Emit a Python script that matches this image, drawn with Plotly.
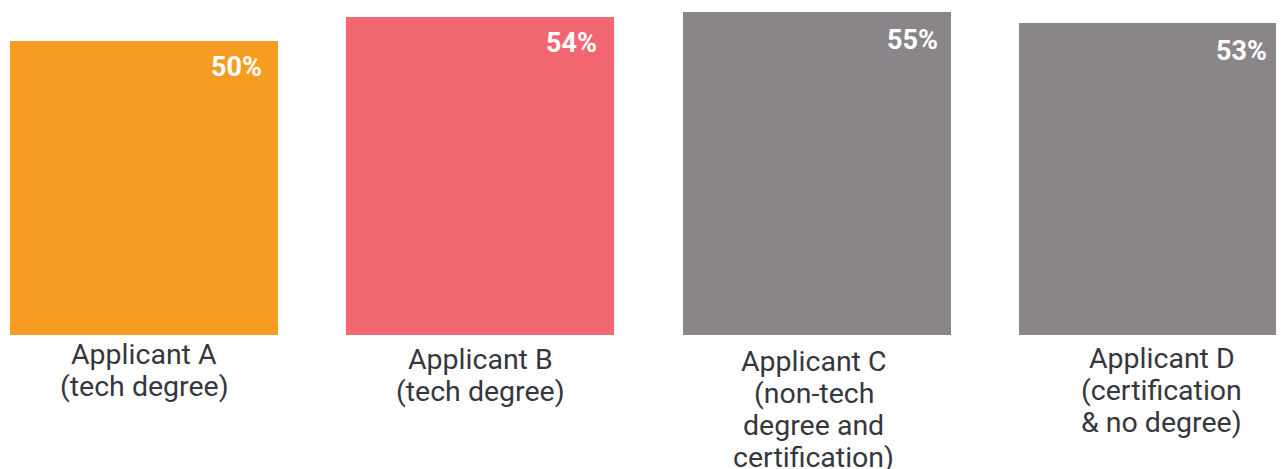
import plotly.graph_objects as go

categories = ["Applicant A", "Applicant B", "Applicant C", "Applicant D"]
label_lines = [
    ["Applicant A", "(tech degree)"],
    ["Applicant B", "(tech degree)"],
    ["Applicant C", "(non-tech", "degree and", "certification)"],
    ["Applicant D", "(certification", "& no degree)"],
]
values = [50, 54, 55, 53]
colors = ["#F79C23", "#F16670", "#8A8589", "#8A8589"]

# layout offsets (pixels) for text placement
label_first_shift = [-19, -24, -26, -23]
label_line_step = 32
label_xshift = [0, 0, -3, 9]
pct_xshift = [120, 119, 123, 116]
pct_yshift = [-26, -26, -28, -28]

fig = go.Figure()
fig.add_trace(go.Bar(x=list(range(len(categories))), y=values, marker_color=colors,
                     marker_line_width=0, width=0.797, hoverinfo="skip"))

ann = []
for i, (v, lines) in enumerate(zip(values, label_lines)):
    ann.append(dict(x=i, y=v, xref="x", yref="y", text=f"<b>{v}%</b>", showarrow=False,
                    xanchor="right", yanchor="middle", xshift=pct_xshift[i], yshift=pct_yshift[i],
                    font=dict(family="Roboto", size=27, color="white")))
    for j, line in enumerate(lines):
        ann.append(dict(x=i, y=0, xref="x", yref="y", text=line, showarrow=False,
                        xanchor="center", yanchor="middle",
                        xshift=label_xshift[i], yshift=label_first_shift[i] - j * label_line_step,
                        font=dict(family="Roboto", size=28.5, color="#36373E")))

fig.update_layout(
    width=1284, height=469,
    margin=dict(l=0, r=0, t=0, b=142),
    paper_bgcolor="white", plot_bgcolor="white",
    showlegend=False, bargap=0,
    xaxis=dict(visible=False, range=[-0.4044, 3.4136]),
    yaxis=dict(visible=False, range=[0, 55.61]),
    annotations=ann,
)
fig.write_html("out.html")
